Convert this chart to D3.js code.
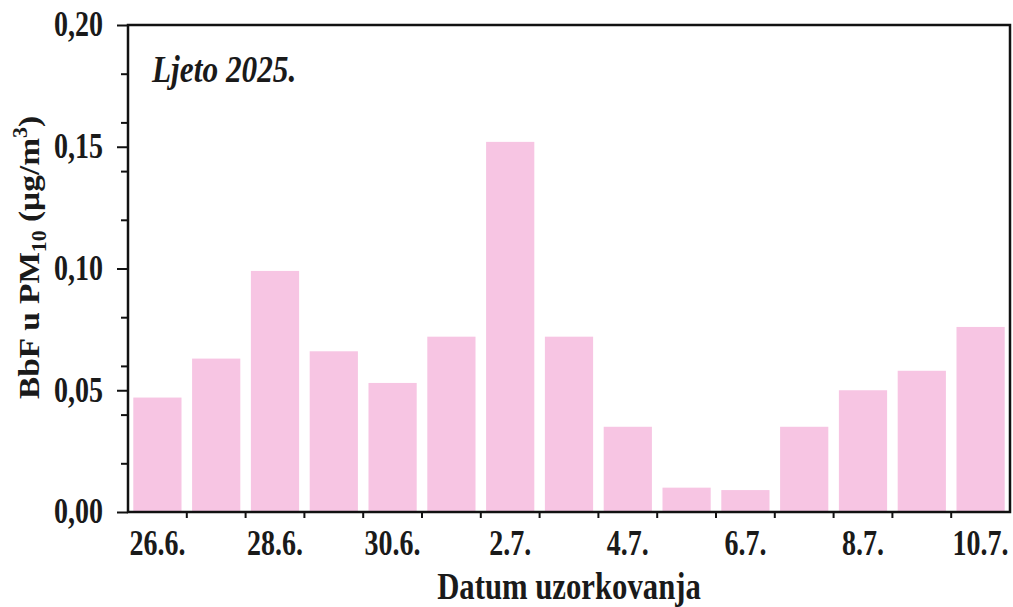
<!DOCTYPE html>
<html>
<head>
<meta charset="utf-8">
<script src="https://cdn.jsdelivr.net/npm/d3@7"></script>
<style>
  body { margin: 0; background: #fff; }
  text { font-family: "Liberation Serif", "Times New Roman", serif; font-weight: bold; fill: #1a1a1a; }
</style>
</head>
<body>
<svg id="drawing_region"></svg>
<script>
// sampling dates (summer 2025)
const dates = ['26.6.', '27.6.', '28.6.', '29.6.', '30.6.', '1.7.', '2.7.', '3.7.',
               '4.7.', '5.7.', '6.7.', '7.7.', '8.7.', '9.7.', '10.7.'];
// BbF in PM10, µg/m3
const bbf = [0.047, 0.063, 0.099, 0.066, 0.053, 0.072, 0.152, 0.072,
             0.035, 0.010, 0.009, 0.035, 0.050, 0.058, 0.076];
const labelledDates = ['26.6.', '28.6.', '30.6.', '2.7.', '4.7.', '6.7.', '8.7.', '10.7.'];
const yTicks = [0, 0.05, 0.10, 0.15, 0.20];
const yMinorTicks = [0.02, 0.04, 0.06, 0.08, 0.12, 0.14, 0.16, 0.18];

const width = 1013, height = 607;
const margin = {top: 25, right: 3, bottom: 95, left: 128};
const stretch = 1.3;   // the scanned lettering is taller than it is wide

const svg = d3.select('#drawing_region')
    .attr('width', width)
    .attr('height', height);

const x = d3.scaleBand()
    .domain(dates)
    .range([margin.left, width - margin.right])
    .paddingInner(0.18)
    .paddingOuter(0.09);

const y = d3.scaleLinear()
    .domain([0, 0.20])
    .range([height - margin.bottom, margin.top]);

// bars
svg.append('g')
    .selectAll('rect')
    .data(dates)
    .join('rect')
    .attr('x', d => x(d))
    .attr('width', x.bandwidth())
    .attr('y', (d, i) => y(bbf[i]))
    .attr('height', (d, i) => y(0) - y(bbf[i]))
    .attr('fill', '#f7c5e3');

// frame
svg.append('rect')
    .attr('x', margin.left)
    .attr('y', margin.top)
    .attr('width', width - margin.right - margin.left)
    .attr('height', y(0) - margin.top)
    .attr('fill', 'none')
    .attr('stroke', '#111')
    .attr('stroke-width', 2.5);

// y axis
const yAxis = svg.append('g')
    .attr('transform', `translate(${margin.left},0)`)
    .call(d3.axisLeft(y).tickValues(yTicks).tickSize(11).tickPadding(14)
        .tickFormat(d => d3.format('.2f')(d).replace('.', ',')));
yAxis.select('.domain').remove();
yAxis.selectAll('.tick line').attr('stroke', '#111').attr('stroke-width', 2);
yAxis.selectAll('.tick text')
    .attr('font-size', 28)
    .attr('dy', '0.3em')
    .attr('transform', `scale(1,${stretch})`);

const yMinor = svg.append('g')
    .attr('transform', `translate(${margin.left},0)`)
    .call(d3.axisLeft(y).tickValues(yMinorTicks).tickSize(7).tickFormat(''));
yMinor.select('.domain').remove();
yMinor.selectAll('.tick line').attr('stroke', '#111').attr('stroke-width', 2);

// x axis: ticks at category boundaries
const gap = x.paddingInner() * x.step();
svg.append('g')
    .selectAll('line')
    .data(dates.slice(1))
    .join('line')
    .attr('x1', d => x(d) - gap / 2)
    .attr('x2', d => x(d) - gap / 2)
    .attr('y1', y(0))
    .attr('y2', y(0) + 6)
    .attr('stroke', '#111')
    .attr('stroke-width', 2);

svg.append('g')
    .selectAll('text')
    .data(labelledDates)
    .join('text')
    .attr('transform', d => `translate(${x(d) + x.bandwidth() / 2},${y(0) + 43}) scale(1,${stretch})`)
    .attr('text-anchor', 'middle')
    .attr('font-size', 28)
    .text(d => d);

// axis titles
svg.append('text')
    .attr('transform', `translate(${(margin.left + width - margin.right) / 2},599) scale(1.06,${stretch})`)
    .attr('text-anchor', 'middle')
    .attr('font-size', 29)
    .text('Datum uzorkovanja');

const yTitle = svg.append('text')
    .attr('transform', `translate(39,${(margin.top + y(0)) / 2 - 11}) rotate(-90) scale(1.15,1.05)`)
    .attr('text-anchor', 'middle')
    .attr('font-size', 29);
yTitle.append('tspan').text('BbF u PM');
yTitle.append('tspan').attr('font-size', 19).attr('dy', 7).text('10');
yTitle.append('tspan').attr('dy', -7).text(' (µg/m');
yTitle.append('tspan').attr('font-size', 19).attr('dy', -11).text('3');
yTitle.append('tspan').attr('dy', 11).text(')');

// season label
svg.append('text')
    .attr('transform', `translate(152,82) scale(1.08,${stretch})`)
    .attr('font-size', 29)
    .attr('font-style', 'italic')
    .text('Ljeto 2025.');
</script>
</body>
</html>
